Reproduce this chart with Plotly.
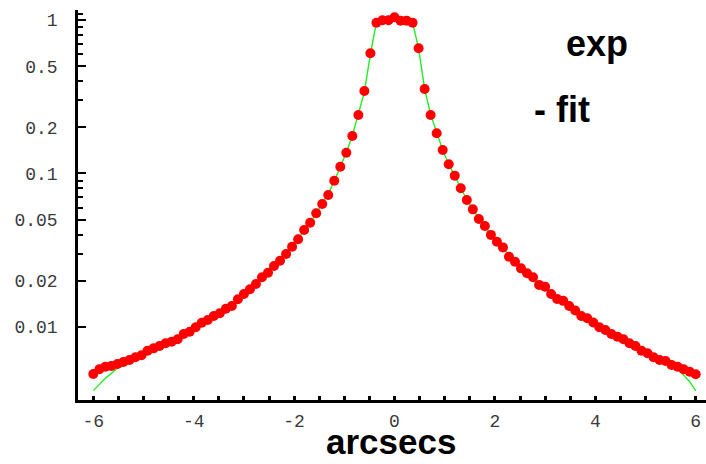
import plotly.graph_objects as go

offsets = [
    -6.00, -5.88, -5.76, -5.64, -5.52, -5.40, -5.28, -5.16, -5.04, -4.92,
    -4.80, -4.68, -4.56, -4.44, -4.32, -4.20, -4.08, -3.96, -3.84, -3.72,
    -3.60, -3.48, -3.36, -3.24, -3.12, -3.00, -2.88, -2.76, -2.64, -2.52,
    -2.40, -2.28, -2.16, -2.04, -1.92, -1.80, -1.68, -1.56, -1.44, -1.32,
    -1.20, -1.08, -0.96, -0.84, -0.72, -0.60, -0.48, -0.36, -0.24, -0.12,
    0.00,
    0.12, 0.24, 0.36, 0.48, 0.60, 0.72, 0.84, 0.96, 1.08, 1.20,
    1.32, 1.44, 1.56, 1.68, 1.80, 1.92, 2.04, 2.16, 2.28, 2.40,
    2.52, 2.64, 2.76, 2.88, 3.00, 3.12, 3.24, 3.36, 3.48, 3.60,
    3.72, 3.84, 3.96, 4.08, 4.20, 4.32, 4.44, 4.56, 4.68, 4.80,
    4.92, 5.04, 5.16, 5.28, 5.40, 5.52, 5.64, 5.76, 5.88, 6.00,
]

exp_values = [
    0.00494, 0.00530, 0.00551, 0.00558, 0.00574, 0.00592, 0.00610, 0.00635, 0.00654, 0.00701,
    0.00726, 0.00752, 0.00783, 0.00802, 0.00832, 0.00901, 0.00932, 0.00995, 0.01067, 0.01110,
    0.01179, 0.01228, 0.01316, 0.01370, 0.01515, 0.01641, 0.01760, 0.01906, 0.02108, 0.02258,
    0.02496, 0.02703, 0.02989, 0.03335, 0.03726, 0.04283, 0.04780, 0.05504, 0.06328, 0.07243,
    0.08977, 0.1107, 0.1366, 0.1755, 0.2405, 0.3447, 0.6067, 0.960, 0.995, 0.995,
    1.041,
    0.990, 0.990, 0.960, 0.654, 0.3552, 0.2405, 0.1827, 0.1422, 0.1148, 0.0968,
    0.0801, 0.0672, 0.0584, 0.0505, 0.0455, 0.0398, 0.0359, 0.0330, 0.0287, 0.0266,
    0.0241, 0.0224, 0.0211, 0.0188, 0.0183, 0.0164, 0.0152, 0.0148, 0.0137, 0.0128,
    0.0118, 0.0114, 0.0107, 0.00995, 0.00956, 0.00901, 0.00865, 0.00832, 0.00783, 0.00752,
    0.00701, 0.00674, 0.00635, 0.00610, 0.00600, 0.00566, 0.00551, 0.00530, 0.00511, 0.00492,
]

fit_values = [
    0.00385, 0.00425, 0.00463, 0.00499, 0.00538, 0.00560, 0.00592, 0.00630, 0.00665, 0.00695,
    0.00724, 0.00755, 0.00785, 0.00812, 0.00845, 0.00895, 0.00935, 0.00990, 0.01055, 0.01110,
    0.01175, 0.01240, 0.01315, 0.01395, 0.01505, 0.01630, 0.01760, 0.01910, 0.02090, 0.02270,
    0.02490, 0.02720, 0.03000, 0.03330, 0.03740, 0.04250, 0.04800, 0.05480, 0.06330, 0.07400,
    0.08900, 0.1100, 0.1370, 0.1760, 0.2400, 0.3400, 0.6000, 0.9700, 0.9950, 0.9980,
    1.0300,
    0.9950, 0.9900, 0.9650, 0.6500, 0.3560, 0.2420, 0.1830, 0.1420, 0.1150, 0.0960,
    0.0805, 0.0675, 0.0582, 0.0508, 0.0452, 0.0400, 0.0360, 0.0328, 0.0292, 0.0266,
    0.0243, 0.0224, 0.0209, 0.0192, 0.0180, 0.0166, 0.0154, 0.0146, 0.0137, 0.0128,
    0.0119, 0.0113, 0.0106, 0.00995, 0.00950, 0.00900, 0.00862, 0.00830, 0.00785, 0.00752,
    0.00705, 0.00672, 0.00640, 0.00610, 0.00582, 0.00557, 0.00525, 0.00487, 0.00440, 0.00383,
]

x_tick_vals = [-6, -4, -2, 0, 2, 4, 6]
x_tick_text = ["-6", "-4", "-2", "0", "2", "4", "6"]
x_minor_vals = [-6.0, -5.5, -5.0, -4.5, -4.0, -3.5, -3.0, -2.5, -2.0, -1.5, -1.0, -0.5,
                0.0, 0.5, 1.0, 1.5, 2.0, 2.5, 3.0, 3.5, 4.0, 4.5, 5.0, 5.5, 6.0]
y_tick_vals = [0.01, 0.02, 0.05, 0.1, 0.2, 0.5, 1]
y_tick_text = ["0.01", "0.02", "0.05", "0.1", "0.2", "0.5", "1"]
y_minor_vals = [0.03, 0.04, 0.06, 0.07, 0.08, 0.09, 0.3, 0.4, 0.6, 0.7, 0.8, 0.9, 1.1]

fig = go.Figure()
fig.add_trace(go.Scatter(
    x=offsets, y=fit_values, mode="lines",
    line=dict(color="#22ee22", width=1.4),
    showlegend=False, name="fit",
))
fig.add_trace(go.Scatter(
    x=offsets, y=exp_values, mode="markers",
    marker=dict(color="#ff0000", size=10, line=dict(width=0)),
    showlegend=False, name="exp",
))

tick_font = dict(family="Liberation Mono", size=18, color="#3a3a3a")

fig.update_layout(
    width=706, height=464,
    margin=dict(l=78, r=0, t=10, b=64),
    paper_bgcolor="white", plot_bgcolor="white",
    xaxis=dict(
        range=[-6.305, 6.205], showgrid=False, zeroline=False,
        showline=True, linecolor="black", linewidth=2.5,
        ticks="inside", ticklen=4, tickwidth=3, tickcolor="black",
        tickvals=x_tick_vals, ticktext=x_tick_text, tickfont=tick_font,
        ticklabelstandoff=3,
        minor=dict(tickvals=x_minor_vals, ticks="inside", ticklen=4, tickwidth=3, tickcolor="black"),
    ),
    yaxis=dict(
        type="log", range=[-2.4756, 0.0651], showgrid=False, zeroline=False,
        showline=True, linecolor="black", linewidth=2.5,
        ticks="inside", ticklen=8, tickwidth=2, tickcolor="black",
        tickvals=y_tick_vals, ticktext=y_tick_text, tickfont=tick_font,
        ticklabelstandoff=14,
        minor=dict(tickvals=y_minor_vals, ticks="inside", ticklen=5, tickwidth=2, tickcolor="black"),
    ),
    annotations=[
        dict(text="<b>exp</b>", xref="paper", yref="paper", x=0.827, y=0.913,
             xanchor="center", yanchor="middle", showarrow=False,
             font=dict(family="Liberation Sans", size=36, color="black")),
        dict(text="<b>- fit</b>", xref="paper", yref="paper", x=0.770, y=0.744,
             xanchor="center", yanchor="middle", showarrow=False,
             font=dict(family="Liberation Sans", size=36, color="black")),
        dict(text="<b>arcsecs</b>", xref="paper", yref="paper", x=0.498, y=-0.1615,
             xanchor="center", yanchor="bottom", showarrow=False,
             font=dict(family="Liberation Sans", size=35, color="black")),
    ],
)

fig.write_html("out.html")
